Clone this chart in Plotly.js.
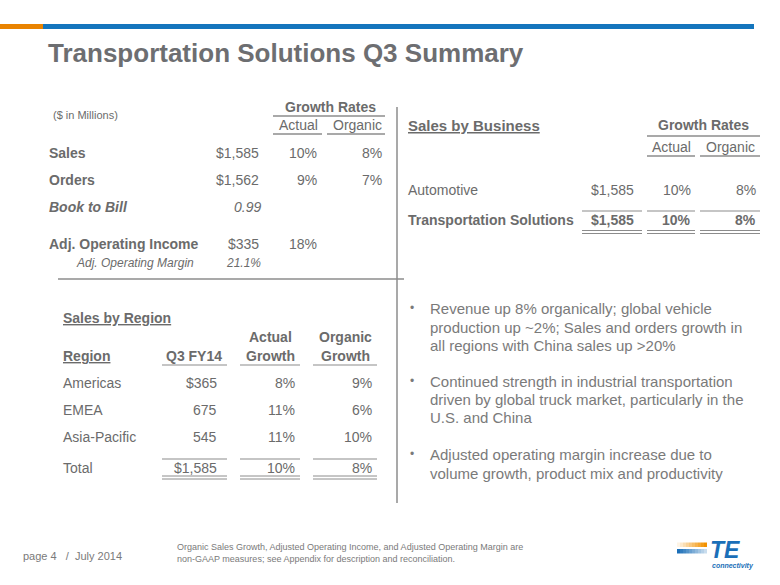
<!DOCTYPE html>
<html>
<head>
<meta charset="utf-8">
<script src="https://cdn.plot.ly/plotly-3.0.1.min.js"></script>
<style>html,body{margin:0;padding:0;background:#fff;}#chart{width:780px;height:585px;}</style>
</head>
<body>
<div id="chart"></div>
<script>
// ---------- DATA ----------
const pageTitle = 'Transportation Solutions Q3 Summary';
const unitsNote = '($ in Millions)';

// Summary table
const summaryLabels  = ['Sales', 'Orders', 'Book to Bill', 'Adj. Operating Income', 'Adj. Operating Margin'];
const summaryValues  = ['$1,585', '$1,562', '0.99', '$335', '21.1%'];
const summaryActual  = ['10%', '9%', '', '18%', ''];
const summaryOrganic = ['8%', '7%', '', '', ''];

// Sales by business
const businessLabels  = ['Automotive', 'Transportation Solutions'];
const businessSales   = ['$1,585', '$1,585'];
const businessActual  = ['10%', '10%'];
const businessOrganic = ['8%', '8%'];

// Sales by region
const regionHeaders = ['Region', 'Q3 FY14', 'Actual<br>Growth', 'Organic<br>Growth'];
const regionLabels  = ['Americas', 'EMEA', 'Asia-Pacific', 'Total'];
const regionSales   = ['$365', '675', '545', '$1,585'];
const regionActual  = ['8%', '11%', '11%', '10%'];
const regionOrganic = ['9%', '6%', '10%', '8%'];

// Commentary
const bulletLines = [
  ['Revenue up 8% organically; global vehicle', 'production up ~2%; Sales and orders growth in', 'all regions with China sales up >20%'],
  ['Continued strength in industrial transportation', 'driven by global truck market, particularly in the', 'U.S. and China'],
  ['Adjusted operating margin increase due to', 'volume growth, product mix and productivity']
];

const footerPage = 'page 4   /  July 2014';
const footnoteLines = ['Organic Sales Growth, Adjusted Operating Income, and Adjusted Operating Margin are',
                       'non-GAAP measures; see Appendix for description and reconciliation.'];

// ---------- STYLE / LAYOUT ----------
const W = 780, H = 585;
const FONT = 'Arial, "Liberation Sans", sans-serif';
const TXT = '#6b6b6b';
const RULE = '#8c8c8c';
const ann = [];
const shapes = [];

function txt(x, y, text, o) {
  o = o || {};
  ann.push({
    xref: 'x', yref: 'y', x: x, y: y, text: text, showarrow: false,
    xanchor: o.xa || 'left', yanchor: o.ya || 'middle', align: o.align || 'left',
    font: {family: FONT, size: o.size || 14, color: o.color || TXT},
    borderpad: 0
  });
}
function hline(x0, x1, y, w, c) {
  shapes.push({type: 'line', xref: 'x', yref: 'y', x0: x0, x1: x1, y0: y, y1: y,
    line: {color: c || RULE, width: w || 1.3}});
}
function vline(x, y0, y1, w, c) {
  shapes.push({type: 'line', xref: 'x', yref: 'y', x0: x, x1: x, y0: y0, y1: y1,
    line: {color: c || RULE, width: w || 1.3}});
}
function rect(x0, x1, y0, y1, c, op) {
  shapes.push({type: 'rect', xref: 'x', yref: 'y', x0: x0, x1: x1, y0: y0, y1: y1,
    line: {width: 0}, fillcolor: c, opacity: op === undefined ? 1 : op});
}

// Top bar
rect(0, 43, 24, 29, '#e98300');
rect(43, 754, 24, 29, '#1475bd');

// Title
txt(47, 53, '<b>' + pageTitle + '</b>', {size: 26, color: '#6d6e71'});

// ---- Summary table (top-left) ----
txt(52, 115, unitsNote, {size: 11});
txt(330, 107, '<b>Growth Rates</b>', {xa: 'center'});
hline(273, 385, 116);
txt(298, 125, 'Actual', {xa: 'center'});
txt(357, 125, 'Organic', {xa: 'center'});
hline(273, 322, 134);
hline(327, 385, 134);

const sumY = [153, 180, 207, 244, 263];
summaryLabels.forEach(function (lab, i) {
  let l = lab, v = summaryValues[i], size = 14, lx = 48;
  if (i === 0 || i === 1 || i === 3) { l = '<b>' + lab + '</b>'; }
  if (i === 2) { l = '<b><i>' + lab + '</i></b>'; v = '<i>' + v + '</i>'; }
  if (i === 4) { l = '<i>' + lab + '</i>'; v = '<i>' + v + '</i>'; size = 12; lx = 75; }
  txt(lx, sumY[i], l, {size: size});
  txt(i === 2 || i === 4 ? 262 : 260, sumY[i], v, {xa: 'right', size: size});
  if (summaryActual[i]) txt(318, sumY[i], summaryActual[i], {xa: 'right'});
  if (summaryOrganic[i]) txt(383, sumY[i], summaryOrganic[i], {xa: 'right'});
});

// Dividers
vline(397, 107, 503, 1.5);
hline(58, 404, 279, 1.5);

// ---- Sales by Business (top-right) ----
txt(407, 125, '<b><u>Sales by Business</u></b>', {size: 15});
txt(703, 125, '<b>Growth Rates</b>', {xa: 'center'});
hline(647, 760, 136);
txt(671, 147, 'Actual', {xa: 'center'});
txt(730, 147, 'Organic', {xa: 'center'});
hline(647, 695, 156);
hline(700, 760, 156);

const busY = [190, 220];
businessLabels.forEach(function (lab, i) {
  const b = i === businessLabels.length - 1;
  const f = function (s) { return b ? '<b>' + s + '</b>' : s; };
  txt(407, busY[i], f(lab));
  txt(635, busY[i], f(businessSales[i]), {xa: 'right'});
  txt(692, busY[i], f(businessActual[i]), {xa: 'right'});
  txt(757, busY[i], f(businessOrganic[i]), {xa: 'right'});
});
[[582, 642], [647, 695], [700, 760]].forEach(function (s) {
  hline(s[0], s[1], 211, 1.2);
  hline(s[0], s[1], 230.5, 1);
  hline(s[0], s[1], 233.5, 1);
});

// ---- Sales by Region (bottom-left) ----
txt(62, 318, '<b><u>Sales by Region</u></b>');
txt(62, 356, '<b><u>' + regionHeaders[0] + '</u></b>');
txt(223, 356, '<b>' + regionHeaders[1] + '</b>', {xa: 'right'});
const rh2 = regionHeaders[2].split('<br>'), rh3 = regionHeaders[3].split('<br>');
txt(270, 337, '<b>' + rh2[0] + '</b>', {xa: 'center'});
txt(270, 356, '<b>' + rh2[1] + '</b>', {xa: 'center'});
txt(345, 337, '<b>' + rh3[0] + '</b>', {xa: 'center'});
txt(345, 356, '<b>' + rh3[1] + '</b>', {xa: 'center'});
const regSeg = [[162, 227], [240, 300], [313, 377]];
regSeg.forEach(function (s) { hline(s[0], s[1], 365, 1.2); });

const regY = [383, 410, 437, 468];
regionLabels.forEach(function (lab, i) {
  txt(62, regY[i], lab);
  txt(218, regY[i], regionSales[i], {xa: 'right'});
  txt(296, regY[i], regionActual[i], {xa: 'right'});
  txt(373, regY[i], regionOrganic[i], {xa: 'right'});
});
regSeg.forEach(function (s) {
  hline(s[0], s[1], 459, 1.2);
  hline(s[0], s[1], 476, 1);
  hline(s[0], s[1], 479, 1);
});

// ---- Bullets (bottom-right) ----
const bulletY = [[308, 327, 345], [381, 399, 417], [454, 473]];
bulletLines.forEach(function (lines, i) {
  txt(409, bulletY[i][0], '•', {size: 12, color: '#7a7a7a'});
  lines.forEach(function (ln, j) {
    txt(429, bulletY[i][j], ln, {size: 15, color: '#7a7a7a'});
  });
});

// ---- Footer ----
txt(22, 556, footerPage, {size: 11, color: '#7a7a7a'});
txt(176, 553, footnoteLines.join('<br>'), {size: 9, color: '#7a7a7a', align: 'left'});

// Logo (stripes with fading gradient, TE lettering)
const nSeg = 10;
for (let k = 0; k < nSeg; k++) {
  const x0 = 677 + k * 3, x1 = x0 + 3;
  rect(x0, x1, 542.5, 547, '#f39200', (k + 1) / nSeg);
  rect(x0, x1, 549, 553.5, '#1b6fb8', 1 - k / nSeg * 0.85);
}
txt(709, 550, '<b><i>TE</i></b>', {size: 23, color: '#1b6fb8'});
txt(711, 566, '<b><i>connectivity</i></b>', {size: 7, color: '#1b6fb8'});

// ---------- PLOT ----------
const data = [{x: [0], y: [0], type: 'scatter', mode: 'markers',
  marker: {opacity: 0}, hoverinfo: 'skip', showlegend: false}];
const layout = {
  width: W, height: H,
  margin: {l: 0, r: 0, t: 0, b: 0},
  paper_bgcolor: '#ffffff', plot_bgcolor: '#ffffff',
  xaxis: {range: [0, W], visible: false, fixedrange: true},
  yaxis: {range: [H, 0], visible: false, fixedrange: true},
  showlegend: false,
  annotations: ann,
  shapes: shapes
};
Plotly.newPlot('chart', data, layout, {staticPlot: true, displayModeBar: false});
</script>
</body>
</html>
